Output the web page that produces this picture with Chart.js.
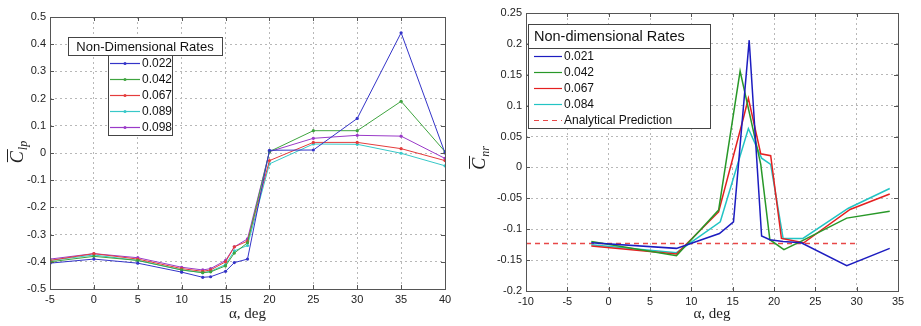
<!DOCTYPE html>
<html lang="en">
<head>
    <meta charset="UTF-8">
    <title>Non-dimensional rates</title>
    <script src="https://cdn.jsdelivr.net/npm/chart.js"></script>
    <style>
        body {
            margin: 0;
            background: #fff;
            width: 921px;
            height: 326px;
            overflow: hidden;
        }
        .row {
            display: flex;
        }
        canvas {
            display: block;
        }
    </style>
</head>
<body>
    <div class="row">
        <canvas id="leftChart" width="460" height="326"></canvas>
        <canvas id="rightChart" width="461" height="326"></canvas>
    </div>

    <script>
        // left panel: roll coefficient vs alpha
        const alphaLeft = [-5, 0, 5, 10, 12.4, 13.3, 15, 16, 17.5, 20, 25, 30, 35, 40];
        const clp022 = [-0.405, -0.39, -0.405, -0.438, -0.457, -0.455, -0.435, -0.403, -0.39, 0.01, 0.011, 0.127, 0.442, 0.0];
        const clp042 = [-0.4, -0.38, -0.395, -0.43, -0.44, -0.437, -0.415, -0.368, -0.33, 0.005, 0.082, 0.082, 0.19, 0.005];
        const clp067 = [-0.395, -0.37, -0.39, -0.425, -0.435, -0.43, -0.4, -0.345, -0.324, -0.028, 0.039, 0.039, 0.016, -0.028];
        const clp089 = [-0.395, -0.375, -0.395, -0.43, -0.44, -0.435, -0.41, -0.36, -0.34, -0.04, 0.033, 0.032, -0.001, -0.047];
        const clp098 = [-0.39, -0.37, -0.385, -0.42, -0.43, -0.425, -0.395, -0.345, -0.316, 0.005, 0.054, 0.065, 0.062, -0.02];
        const leftLabels = ['0.022', '0.042', '0.067', '0.089', '0.098'];

        // right panel: yaw coefficient vs alpha (each rate has its own alpha points)
        const alpha021 = [-2.1, 8.2, 13.4, 15.1, 17.0, 18.5, 19.5, 21.1, 23.3, 28.8, 34.0];
        const cnr021 = [-0.122, -0.131, -0.107, -0.088, 0.206, -0.111, -0.117, -0.12, -0.122, -0.159, -0.131];
        const alpha042 = [-2.1, 8.2, 13.3, 15.9, 18.4, 19.5, 21.2, 23.5, 28.8, 34.0];
        const cnr042 = [-0.12, -0.143, -0.069, 0.156, 0.005, -0.117, -0.133, -0.118, -0.082, -0.071];
        const alpha067 = [-2.1, 8.2, 13.3, 16.3, 16.9, 18.4, 19.6, 20.9, 23.6, 29.2, 34.0];
        const cnr067 = [-0.127, -0.14, -0.072, 0.08, 0.112, 0.022, 0.019, -0.115, -0.122, -0.068, -0.043];
        const alpha084 = [-2.1, 8.2, 13.5, 16.9, 18.5, 19.6, 21.1, 23.5, 29.0, 34.0];
        const cnr084 = [-0.125, -0.138, -0.088, 0.063, 0.015, 0.005, -0.115, -0.115, -0.066, -0.034];
        const alphaPred = [-10, 30];
        const cnrPred = [-0.123, -0.123];
        const rightLabels = ['0.021', '0.042', '0.067', '0.084', 'Analytical Prediction'];

        const leftColors = ['#3434c8', '#3fa43f', '#e43c3c', '#38c8c8', '#9a3ac8'];
        const rightColors = ['#1c1cc0', '#289828', '#e42020', '#22c4c4', '#e84848'];

        function pts(xs, ys) {
            return xs.map((x, i) => ({ x: x, y: ys[i] }));
        }

        // matlab-like frame, inner ticks, boxed legend and y label
        const matlabLook = {
            id: 'matlabLook',
            afterDraw(chart, args, opts) {
                const ctx = chart.ctx;
                const a = chart.chartArea;
                const xs = chart.scales.x, ys = chart.scales.y;
                ctx.save();
                ctx.strokeStyle = '#555';
                ctx.lineWidth = 1;
                ctx.strokeRect(a.left + 0.5, a.top + 0.5, a.right - a.left, a.bottom - a.top);
                ctx.beginPath();
                xs.ticks.forEach(t => {
                    const p = Math.round(xs.getPixelForValue(t.value)) + 0.5;
                    ctx.moveTo(p, a.bottom); ctx.lineTo(p, a.bottom - 4);
                    ctx.moveTo(p, a.top); ctx.lineTo(p, a.top + 4);
                });
                ys.ticks.forEach(t => {
                    const p = Math.round(ys.getPixelForValue(t.value)) + 0.5;
                    ctx.moveTo(a.left, p); ctx.lineTo(a.left + 4, p);
                    ctx.moveTo(a.right, p); ctx.lineTo(a.right - 4, p);
                });
                ctx.stroke();

                // legend
                const L = opts.legend;
                ctx.fillStyle = '#fff';
                ctx.strokeStyle = '#444';
                ctx.fillRect(L.tx, L.ty, L.tw, L.th);
                ctx.strokeRect(L.tx + 0.5, L.ty + 0.5, L.tw, L.th);
                ctx.fillRect(L.bx, L.by, L.bw, L.bh);
                ctx.strokeRect(L.bx + 0.5, L.by + 0.5, L.bw, L.bh);
                ctx.fillStyle = '#111';
                ctx.font = L.titleFont;
                ctx.textBaseline = 'middle';
                ctx.textAlign = L.titleAlign;
                ctx.fillText(L.title, L.titleX, L.ty + L.th / 2 + 1);
                ctx.textAlign = 'left';
                ctx.font = L.itemFont;
                chart.data.datasets.forEach((ds, i) => {
                    const y = L.itemY + i * L.step;
                    ctx.strokeStyle = ds.borderColor;
                    ctx.lineWidth = 1.2;
                    ctx.setLineDash(ds.borderDash || []);
                    ctx.beginPath();
                    ctx.moveTo(L.lx0, y + 0.5);
                    ctx.lineTo(L.lx1, y + 0.5);
                    ctx.stroke();
                    ctx.setLineDash([]);
                    if (ds.pointRadius > 0) {
                        ctx.fillStyle = ds.borderColor;
                        ctx.beginPath();
                        ctx.arc((L.lx0 + L.lx1) / 2, y + 0.5, 1.5, 0, Math.PI * 2);
                        ctx.fill();
                    }
                    ctx.fillStyle = '#111';
                    ctx.fillText(ds.label, L.lx1 + 2, y + 1);
                });

                // y axis label: C with overline and subscript, rotated
                const Y = opts.ylabel;
                ctx.translate(Y.x, Y.y);
                ctx.rotate(-Math.PI / 2);
                ctx.font = 'italic 18px "Liberation Serif"';
                const wC = ctx.measureText('C').width;
                ctx.font = 'italic 12px "Liberation Serif"';
                const wS = ctx.measureText(Y.sub).width;
                const x0 = -(wC + wS + 1) / 2;
                ctx.fillStyle = '#222';
                ctx.textBaseline = 'alphabetic';
                ctx.font = 'italic 18px "Liberation Serif"';
                ctx.fillText('C', x0, 5);
                ctx.font = 'italic 12px "Liberation Serif"';
                ctx.fillText(Y.sub, x0 + wC + 1, 9);
                ctx.strokeStyle = '#222';
                ctx.lineWidth = 1;
                ctx.beginPath();
                ctx.moveTo(x0 + 1, -10.5);
                ctx.lineTo(x0 + wC + 2, -10.5);
                ctx.stroke();
                ctx.restore();
            }
        };

        const tickFont = { family: '"Liberation Sans", Arial, sans-serif', size: 11 };
        const fmt = v => String(parseFloat(v.toFixed(3)));

        function axes(xmin, xmax, xstep, ymin, ymax, ystep, yWidth, xHeight) {
            const grid = { color: '#b8b8b8', lineWidth: 1, drawTicks: false };
            return {
                x: {
                    type: 'linear', min: xmin, max: xmax,
                    ticks: { stepSize: xstep, color: '#222', font: tickFont, padding: 4, callback: fmt },
                    grid: grid,
                    border: { display: false, dash: [2, 3] },
                    title: {
                        display: true, text: 'α, deg', color: '#222',
                        font: { family: '"Liberation Serif", serif', size: 15 },
                        padding: { top: 0, bottom: 3 }
                    },
                    afterFit: s => { s.height = xHeight; }
                },
                y: {
                    min: ymin, max: ymax,
                    ticks: { stepSize: ystep, color: '#222', font: tickFont, padding: 4, callback: fmt },
                    grid: grid,
                    border: { display: false, dash: [2, 3] },
                    afterFit: s => { s.width = yWidth; }
                }
            };
        }

        Chart.defaults.animation = false;
        Chart.defaults.font.family = '"Liberation Sans", Arial, sans-serif';

        const leftSeries = [clp022, clp042, clp067, clp089, clp098];
        new Chart(document.getElementById('leftChart'), {
            type: 'line',
            data: {
                datasets: leftSeries.map((ys, i) => ({
                    label: leftLabels[i],
                    data: pts(alphaLeft, ys),
                    borderColor: leftColors[i],
                    backgroundColor: leftColors[i],
                    borderWidth: 1,
                    pointRadius: 1.6,
                    pointBorderWidth: 0,
                    tension: 0
                }))
            },
            options: {
                responsive: false,
                layout: { padding: { top: 17, right: 15, left: 0, bottom: 0 } },
                scales: axes(-5, 40, 5, -0.5, 0.5, 0.1, 50, 37),
                plugins: {
                    legend: { display: false },
                    tooltip: { enabled: false },
                    matlabLook: {
                        legend: {
                            tx: 68, ty: 37, tw: 154, th: 18,
                            bx: 108, by: 55, bw: 64, bh: 80,
                            title: 'Non-Dimensional Rates', titleAlign: 'center', titleX: 145,
                            titleFont: '13px "Liberation Sans", Arial, sans-serif',
                            itemFont: '12px "Liberation Sans", Arial, sans-serif',
                            itemY: 63, step: 16, lx0: 110, lx1: 140
                        },
                        ylabel: { x: 18, y: 152, sub: 'lp' }
                    }
                }
            },
            plugins: [matlabLook]
        });

        const rightX = [alpha021, alpha042, alpha067, alpha084, alphaPred];
        const rightY = [cnr021, cnr042, cnr067, cnr084, cnrPred];
        new Chart(document.getElementById('rightChart'), {
            type: 'line',
            data: {
                datasets: rightX.map((xs, i) => ({
                    label: rightLabels[i],
                    data: pts(xs, rightY[i]),
                    borderColor: rightColors[i],
                    backgroundColor: rightColors[i],
                    borderWidth: 1.5,
                    borderDash: i === 4 ? [5, 4] : [],
                    pointRadius: 0,
                    tension: 0
                }))
            },
            options: {
                responsive: false,
                layout: { padding: { top: 13, right: 23, left: 0, bottom: 0 } },
                scales: axes(-10, 35, 5, -0.2, 0.25, 0.05, 66, 35),
                plugins: {
                    legend: { display: false },
                    tooltip: { enabled: false },
                    matlabLook: {
                        legend: {
                            tx: 68, ty: 24, tw: 182, th: 24,
                            bx: 68, by: 48, bw: 182, bh: 80,
                            title: 'Non-dimensional Rates', titleAlign: 'left', titleX: 74,
                            titleFont: '14.5px "Liberation Sans", Arial, sans-serif',
                            itemFont: '12px "Liberation Sans", Arial, sans-serif',
                            itemY: 56, step: 16, lx0: 74, lx1: 102
                        },
                        ylabel: { x: 20, y: 158, sub: 'nr' }
                    }
                }
            },
            plugins: [matlabLook]
        });
    </script>
</body>
</html>
